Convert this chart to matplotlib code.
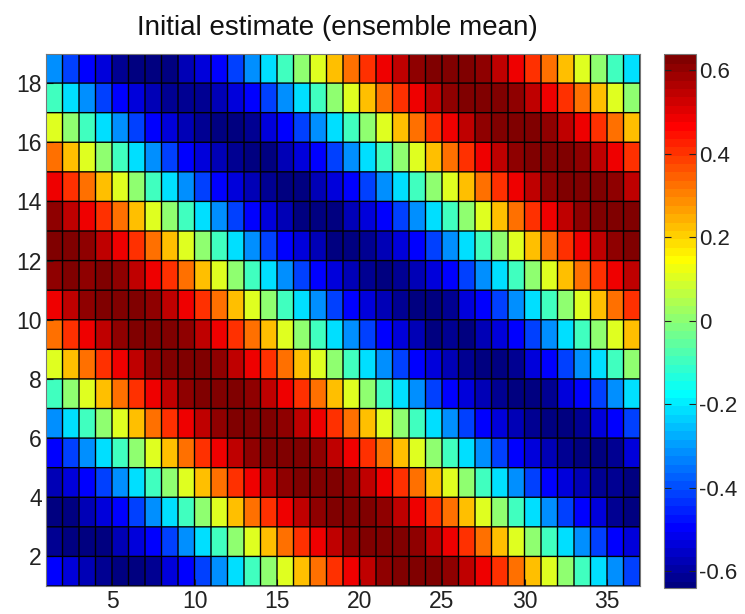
import numpy as np
import matplotlib
matplotlib.use("Agg")
from matplotlib import pyplot as plt
from matplotlib.colors import ListedColormap

plt.rcParams["font.family"] = ["Liberation Sans", "DejaVu Sans"]

x_edges = list(range(1, 38))
y_edges = list(range(1, 20))
x_ticks = [5, 10, 15, 20, 25, 30, 35]
y_ticks = [2, 4, 6, 8, 10, 12, 14, 16, 18]
bar_ticks = [-0.6, -0.4, -0.2, 0, 0.2, 0.4, 0.6]
bar_labels = ["-0.6", "-0.4", "-0.2", "0", "0.2", "0.4", "0.6"]

# top row first, hundredths
rows = [
    [-31,-41,-49,-53,-61,-63,-63,-63,-57,-53,-49,-41,-31,-21,-9,1,11,23,33,41,49,55,61,63,63,63,61,55,49,41,33,23,11,1,-9,-21],
    [-9,-21,-31,-41,-49,-53,-57,-61,-61,-61,-57,-53,-49,-41,-31,-21,-9,1,11,23,33,41,49,55,61,63,63,63,61,55,49,41,33,23,11,1],
    [11,1,-9,-21,-31,-41,-49,-53,-57,-61,-63,-63,-61,-53,-49,-41,-31,-21,-9,1,11,23,33,41,49,55,61,63,63,63,61,55,49,41,33,23],
    [33,23,11,1,-9,-21,-31,-41,-49,-53,-57,-61,-63,-63,-57,-53,-49,-41,-31,-21,-9,1,11,23,33,41,49,55,61,63,63,63,61,55,49,41],
    [49,41,33,23,11,1,-9,-21,-31,-41,-49,-53,-57,-61,-63,-63,-57,-53,-49,-41,-31,-21,-9,1,11,23,33,41,49,55,61,63,63,63,61,55],
    [61,55,49,41,33,23,11,1,-9,-21,-31,-41,-49,-53,-57,-63,-63,-63,-57,-53,-49,-41,-31,-21,-9,1,11,23,33,41,49,55,61,63,63,63],
    [63,63,61,55,49,41,33,23,11,1,-9,-21,-31,-41,-49,-53,-57,-63,-63,-61,-57,-53,-49,-41,-31,-21,-9,1,11,23,33,41,49,55,61,63],
    [61,63,61,63,61,55,49,41,33,23,11,1,-9,-21,-31,-41,-49,-53,-57,-61,-63,-61,-57,-53,-49,-41,-31,-21,-9,1,11,23,33,41,49,55],
    [49,55,61,63,63,63,61,55,49,41,33,23,11,1,-9,-21,-31,-41,-49,-53,-57,-61,-63,-63,-61,-53,-49,-41,-31,-21,-9,1,11,23,33,41],
    [33,41,49,55,61,63,63,63,61,55,49,41,33,23,11,1,-9,-21,-31,-41,-49,-53,-57,-63,-61,-63,-57,-53,-49,-41,-31,-21,-9,1,11,23],
    [11,23,33,41,49,55,61,63,63,63,61,55,49,41,33,23,11,1,-9,-21,-31,-41,-49,-53,-57,-61,-63,-63,-61,-53,-49,-41,-31,-21,-9,1],
    [-9,1,11,23,33,41,49,55,61,63,63,63,61,55,49,41,33,23,11,1,-9,-21,-31,-41,-49,-53,-57,-61,-63,-63,-61,-53,-49,-41,-31,-21],
    [-31,-21,-9,1,11,23,33,41,49,55,61,63,63,63,61,55,49,41,33,23,11,1,-9,-21,-31,-41,-49,-53,-57,-61,-63,-63,-61,-53,-49,-41],
    [-49,-41,-31,-21,-9,1,11,23,33,41,49,55,61,63,63,63,61,55,49,41,33,23,11,1,-9,-21,-31,-41,-49,-53,-57,-61,-63,-63,-61,-53],
    [-57,-53,-49,-41,-31,-21,-9,1,11,23,33,41,49,55,61,63,63,63,61,55,49,41,33,23,11,1,-9,-21,-31,-41,-49,-53,-57,-61,-61,-63],
    [-63,-63,-57,-53,-49,-41,-31,-21,-9,1,11,23,33,41,49,55,61,63,63,63,61,55,49,41,33,23,11,1,-9,-21,-31,-41,-49,-53,-61,-63],
    [-61,-63,-63,-63,-57,-53,-49,-41,-31,-21,-9,1,11,23,33,41,49,55,61,63,63,63,61,55,49,41,33,23,11,1,-9,-21,-31,-41,-49,-53],
    [-49,-53,-57,-61,-63,-63,-61,-53,-49,-41,-31,-21,-9,1,11,23,33,41,49,55,61,63,63,63,61,55,49,41,33,23,11,1,-9,-21,-31,-41],
]

z = np.array(rows)[::-1] / 100.0

# matlab style jet, 64 steps
i = np.arange(64)
red = np.clip(np.minimum((i - 23) / 16.0, 1 - (i - 55) / 16.0), 0, 1)
green = np.clip(np.minimum((i - 7) / 16.0, 1 - (i - 39) / 16.0), 0, 1)
blue = np.clip(np.minimum(0.5 + i / 14.0, 1 - (i - 23) / 16.0), 0, 1)
jet64 = ListedColormap(np.column_stack([red, green, blue]))

W, H = 745.0, 614.0
fig = plt.figure(figsize=(W / 100, H / 100), dpi=100)
ax = fig.add_axes([46 / W, 1 - 586 / H, 594 / W, 532.5 / H])
mesh = ax.pcolormesh(x_edges, y_edges, z, cmap=jet64, vmin=-0.64, vmax=0.64)
# cell edges as separate lines, mesh edges come out uneven
v_lines = ax.vlines(x_edges, 1, 19, color="k", linewidth=1.0)
h_lines = ax.hlines(y_edges, 1, 37, color="k", linewidth=1.0)
v_lines.set_snap(False)
h_lines.set_snap(False)
ax.set_xlim(1, 37)
ax.set_ylim(1, 19)
ax.set_xticks(x_ticks)
ax.set_yticks(y_ticks)
ax.tick_params(direction="in", length=5, width=0.8, labelsize=16.5, colors="#222222", pad=3)
for s in ax.spines.values():
    s.set_color("#777777")
ax.set_title("Initial estimate (ensemble mean)", fontsize=20, color="#111111", pad=13, x=0.49)

cax = fig.add_axes([664 / W, 1 - 588 / H, 32 / W, 534.5 / H])
cb = fig.colorbar(mesh, cax=cax)
cb.solids.set_edgecolor("face")
cb.set_ticks(bar_ticks)
cb.set_ticklabels(bar_labels)
cax.tick_params(direction="in", length=5, width=0.8, labelsize=16, colors="#222222", pad=2,
                left=True, right=True)
cb.outline.set_edgecolor("#777777")

fig.savefig("out.png", dpi=100)
plt.close()
